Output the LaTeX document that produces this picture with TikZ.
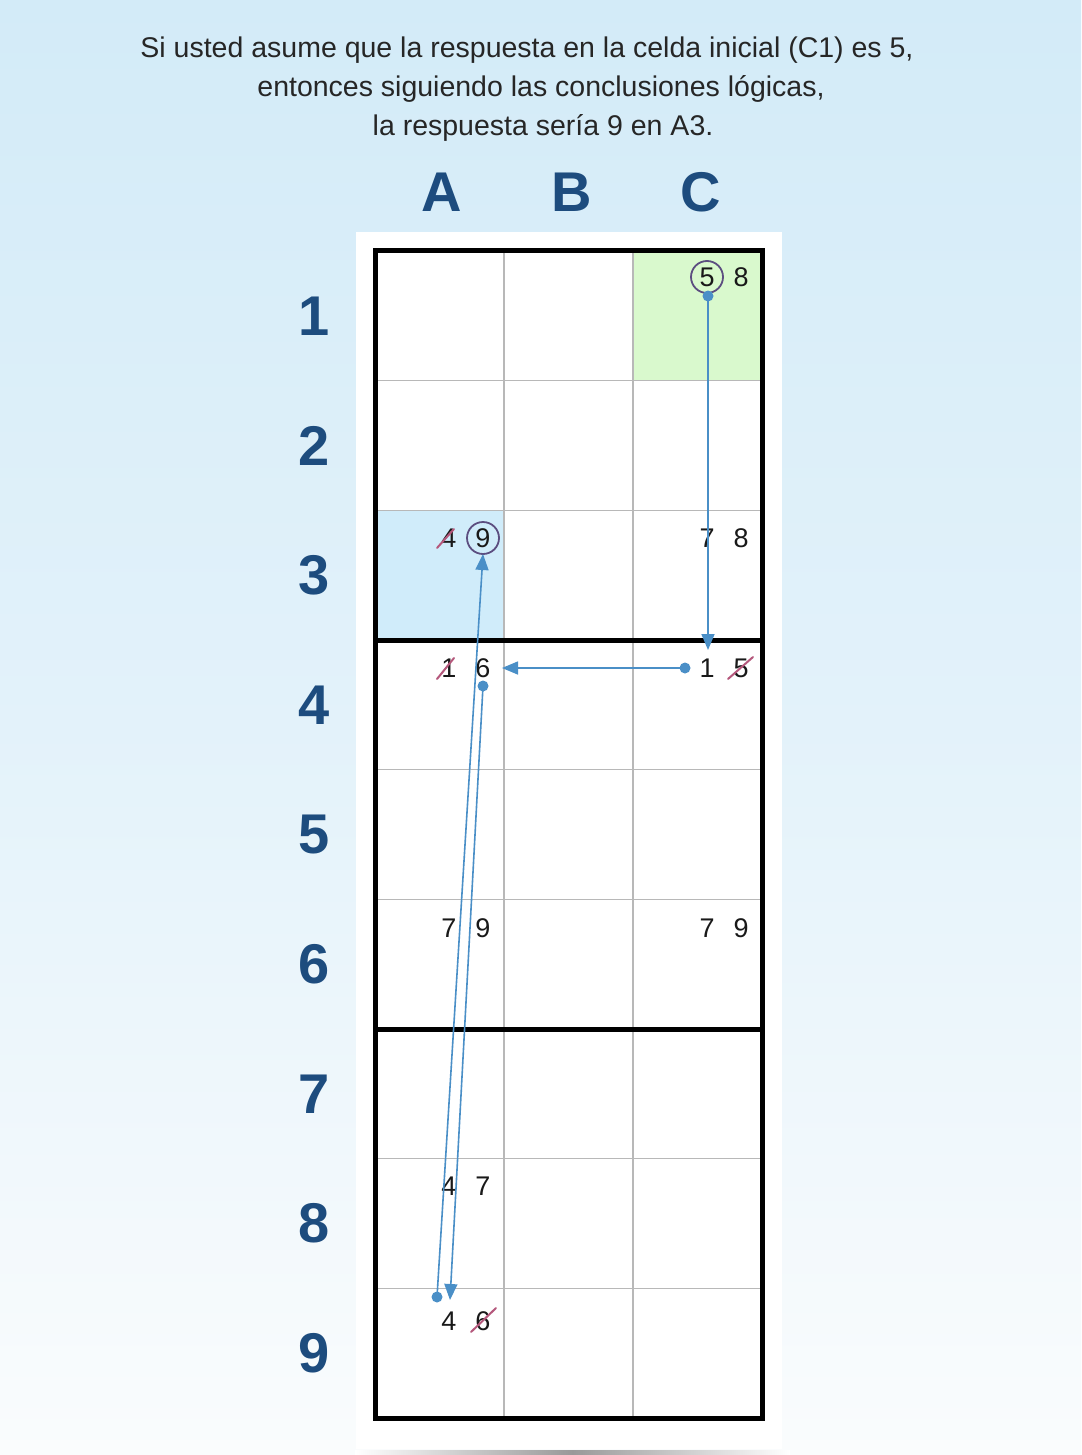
\documentclass[tikz,border=0pt]{standalone}
\usepackage{fontspec}
\setmainfont{Liberation Sans}
\usetikzlibrary{arrows.meta}
\definecolor{bgtop}{HTML}{D3EBF8}
\definecolor{bgmid}{HTML}{E3F2FA}
\definecolor{bgbot}{HTML}{FAFCFD}
\definecolor{lbl}{HTML}{1D4C7E}
\definecolor{gridgray}{HTML}{B8B8B8}
\definecolor{arr}{HTML}{4A8FC7}
\definecolor{ring}{HTML}{5C4E80}
\definecolor{strike}{HTML}{B5587C}
\definecolor{cellgreen}{HTML}{D9F9CD}
\definecolor{cellblue}{HTML}{D0ECFA}
\begin{document}
\begin{tikzpicture}[x=1pt,y=-1pt,
  title/.style={anchor=base, font=\fontsize{28.5}{34}\selectfont, text=black!85, inner sep=0},
  axislabel/.style={font=\fontsize{56}{60}\selectfont\bfseries, text=lbl, inner sep=0},
  cand/.style={font=\fontsize{27}{30}\selectfont, inner sep=0, text=black!90},
  ringmark/.style={draw=ring, line width=1.8, circle, minimum size=32, inner sep=0},
  strikeline/.style={draw=strike, line width=2, line cap=round},
  link/.style={draw=arr, line width=1.6, -{Triangle[length=16,width=13]}},
  dotmark/.style={circle, fill=arr, minimum size=11, inner sep=0},
  thingrid/.style={draw=gridgray, line width=1.6},
  thickgrid/.style={draw=black, line width=5},
]
\useasboundingbox (0,0) rectangle (1081,1455);
% background
\shade[top color=bgtop, bottom color=bgbot, middle color=bgmid] (0,0) rectangle (1081,1455);
\fill[white] (356,232) rectangle (782,1449);
\shade[left color=white, right color=white, middle color=black!40] (355,1450) rectangle (790,1454);

% title
\node[title] (t1) at (527,58) {Si usted asume que la respuesta en la celda inicial (C1) es 5,};
\node[title] (t2) at (541,97) {entonces siguiendo las conclusiones lógicas,};
\node[title] (t3) at (543,136) {la respuesta sería 9 en A3.};

% column labels
\node[axislabel] (colA) at (442,192) {A};
\node[axislabel] (colB) at (572,192) {B};
\node[axislabel] (colC) at (701,192) {C};

% row labels
\foreach \k in {1,...,9} {
  \node[axislabel] (row\k) at (314,{251+64.8+129.667*(\k-1)}) {\k};
}

% highlighted cells
\fill[cellgreen] (633,251) rectangle (762,380.7);
\fill[cellblue] (375,510.3) rectangle (504,640);

% grid
\foreach \k in {1,2,4,5,7,8}
  \draw[thingrid] (375,{251+129.667*\k}) -- (762,{251+129.667*\k});
\foreach \x in {504,633}
  \draw[thingrid] (\x,251) -- (\x,1418);
\foreach \k in {3,6}
  \draw[thickgrid] (375,{251+129.667*\k}) -- (762,{251+129.667*\k});
\draw[thickgrid] (375,251) rectangle (762,1418);

% candidates
\node[cand] (c1a) at (707,277) {5};
\node[cand] (c1b) at (741,277) {8};
\node[ringmark] (ringC1) at (c1a) {};

\node[cand] (a3a) at (449,538) {4};
\node[cand] (a3b) at (483,538) {9};
\node[ringmark] (ringA3) at (a3b) {};

\node[cand] (c3a) at (707,538) {7};
\node[cand] (c3b) at (741,538) {8};

\node[cand] (a4a) at (449,668) {1};
\node[cand] (a4b) at (483,668) {6};
\node[cand] (c4a) at (707,668) {1};
\node[cand] (c4b) at (741,668) {5};

\node[cand] (a6a) at (449,928) {7};
\node[cand] (a6b) at (483,928) {9};
\node[cand] (c6a) at (707,928) {7};
\node[cand] (c6b) at (741,928) {9};

\node[cand] (a8a) at (449,1186) {4};
\node[cand] (a8b) at (483,1186) {7};

\node[cand] (a9a) at (449,1321) {4};
\node[cand] (a9b) at (483,1321) {6};

% strikes
\draw[strikeline] ([shift={(-12,10)}]a3a.center) -- ([shift={(5,-9)}]a3a.center);
\draw[strikeline] ([shift={(-12,11)}]a4a.center) -- ([shift={(5,-10)}]a4a.center);
\draw[strikeline] ([shift={(-13,11)}]c4b.center) -- ([shift={(12,-11)}]c4b.center);
\draw[strikeline] ([shift={(-12,11)}]a9b.center) -- ([shift={(13,-13)}]a9b.center);

% chain of conclusions
\node[dotmark] (d1) at (708,296) {};
\coordinate (e1) at (708,650);
\node[dotmark] (d2) at (685,668) {};
\coordinate (e2) at (502,668);
\node[dotmark] (d3) at (483,686) {};
\coordinate (e3) at (450,1300);
\node[dotmark] (d4) at (437,1297) {};
\coordinate (e4) at (483,554);

\draw[link] (d1.center) -- (e1);
\draw[link] (d2.center) -- (e2);
\draw[link] (d3.center) -- (e3);
\draw[link] (d4.center) -- (e4);
\end{tikzpicture}
\end{document}
